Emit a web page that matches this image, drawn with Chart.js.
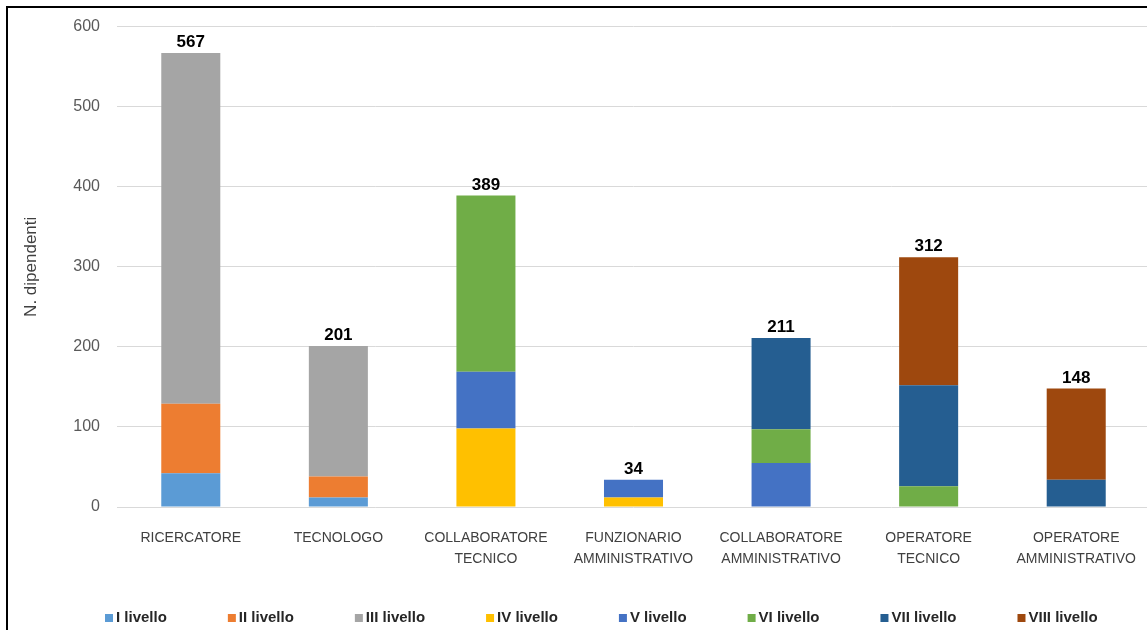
<!DOCTYPE html>
<html lang="it">
<head>
<meta charset="utf-8">
<title>Dipendenti per profilo e livello</title>
<script src="https://cdn.jsdelivr.net/npm/chart.js@4.4.1/dist/chart.umd.min.js"></script>
<style>
    html, body {
        margin: 0;
        padding: 0;
        background: #ffffff;
        overflow: hidden;
    }
    .frame {
        position: absolute;
        left: 6px;
        top: 6px;
        width: 1200px;
        height: 700px;
        border-left: 2px solid #000000;
        border-top: 2px solid #000000;
    }
    .chart-box {
        position: absolute;
        left: 0;
        top: 0;
        width: 1150px;
        height: 630px;
    }
</style>
</head>
<body>
<div class="frame"></div>
<div class="chart-box">
    <canvas id="staffChart"></canvas>
</div>
<script>
// Profili professionali (asse x)
const profili = [
    'RICERCATORE',
    'TECNOLOGO',
    ['COLLABORATORE', 'TECNICO'],
    ['FUNZIONARIO', 'AMMINISTRATIVO'],
    ['COLLABORATORE', 'AMMINISTRATIVO'],
    ['OPERATORE', 'TECNICO'],
    ['OPERATORE', 'AMMINISTRATIVO']
];

// Numero di dipendenti per livello, un valore per profilo
const livelloI    = [42, 12, 0, 0, 0, 0, 0];
const livelloII   = [87, 26, 0, 0, 0, 0, 0];
const livelloIII  = [438, 163, 0, 0, 0, 0, 0];
const livelloIV   = [0, 0, 98, 12, 0, 0, 0];
const livelloV    = [0, 0, 71, 22, 55, 0, 0];
const livelloVI   = [0, 0, 220, 0, 42, 26, 0];
const livelloVII  = [0, 0, 0, 0, 114, 126, 34];
const livelloVIII = [0, 0, 0, 0, 0, 160, 114];

const nomiLivelli = ['I livello', 'II livello', 'III livello', 'IV livello',
    'V livello', 'VI livello', 'VII livello', 'VIII livello'];
const valoriLivelli = [livelloI, livelloII, livelloIII, livelloIV,
    livelloV, livelloVI, livelloVII, livelloVIII];
const coloriLivelli = ['#5b9bd5', '#ed7d31', '#a5a5a5', '#ffc000',
    '#4472c4', '#70ad47', '#255e91', '#9e480e'];

const fontFamily = "'Liberation Sans', Arial, sans-serif";

// Totale sopra ogni colonna
const totalLabels = {
    id: 'totalLabels',
    afterDatasetsDraw(chart) {
        const ctx = chart.ctx;
        const xScale = chart.scales.x;
        const yScale = chart.scales.y;
        ctx.save();
        ctx.font = `bold 17px ${fontFamily}`;
        ctx.fillStyle = '#000000';
        ctx.textAlign = 'center';
        ctx.textBaseline = 'alphabetic';
        profili.forEach((_, i) => {
            const total = valoriLivelli.reduce((acc, serie) => acc + serie[i], 0);
            const x = xScale.getPixelForValue(i);
            const y = yScale.getPixelForValue(total);
            ctx.fillText(String(total), x, y - 6);
        });
        ctx.restore();
    }
};

// Legenda in basso, quadratini piccoli e testo in grassetto
const bottomLegend = {
    id: 'bottomLegend',
    afterDraw(chart) {
        const ctx = chart.ctx;
        ctx.save();
        ctx.font = `bold 15px ${fontFamily}`;
        ctx.textBaseline = 'middle';
        ctx.textAlign = 'left';
        let x = 105;
        const y = 618;
        chart.data.datasets.forEach(ds => {
            ctx.fillStyle = ds.backgroundColor;
            ctx.fillRect(x, y - 4, 8, 8);
            ctx.fillStyle = '#262626';
            ctx.fillText(ds.label, x + 11, y);
            x += 11 + ctx.measureText(ds.label).width + 61;
        });
        ctx.restore();
    }
};

const ctx = document.getElementById('staffChart').getContext('2d');
new Chart(ctx, {
    type: 'bar',
    data: {
        labels: profili,
        datasets: nomiLivelli.map((nome, i) => ({
            label: nome,
            data: valoriLivelli[i],
            backgroundColor: coloriLivelli[i],
            borderWidth: 0,
            categoryPercentage: 1,
            barPercentage: 0.4
        }))
    },
    options: {
        responsive: true,
        maintainAspectRatio: false,
        animation: false,
        layout: {
            padding: { left: 10, top: 22, right: 0, bottom: 63 }
        },
        plugins: {
            legend: { display: false },
            tooltip: { enabled: false }
        },
        scales: {
            x: {
                stacked: true,
                grid: { display: false },
                border: { display: false },
                ticks: {
                    color: '#404040',
                    font: { family: fontFamily, size: 14, lineHeight: 1.55 },
                    padding: 12,
                    maxRotation: 0,
                    autoSkip: false
                },
                afterFit(scale) {
                    scale.height = 60;
                }
            },
            y: {
                stacked: true,
                min: 0,
                max: 600,
                grid: {
                    color: '#d9d9d9',
                    lineWidth: 1,
                    drawTicks: false
                },
                border: { display: false },
                ticks: {
                    stepSize: 100,
                    color: '#595959',
                    font: { family: fontFamily, size: 16 },
                    padding: 17
                },
                title: {
                    display: true,
                    text: 'N. dipendenti',
                    color: '#404040',
                    font: { family: fontFamily, size: 17 },
                    padding: { top: 11, bottom: 0 }
                },
                afterFit(scale) {
                    scale.width = 107;
                }
            }
        }
    },
    plugins: [totalLabels, bottomLegend]
});
</script>
</body>
</html>
